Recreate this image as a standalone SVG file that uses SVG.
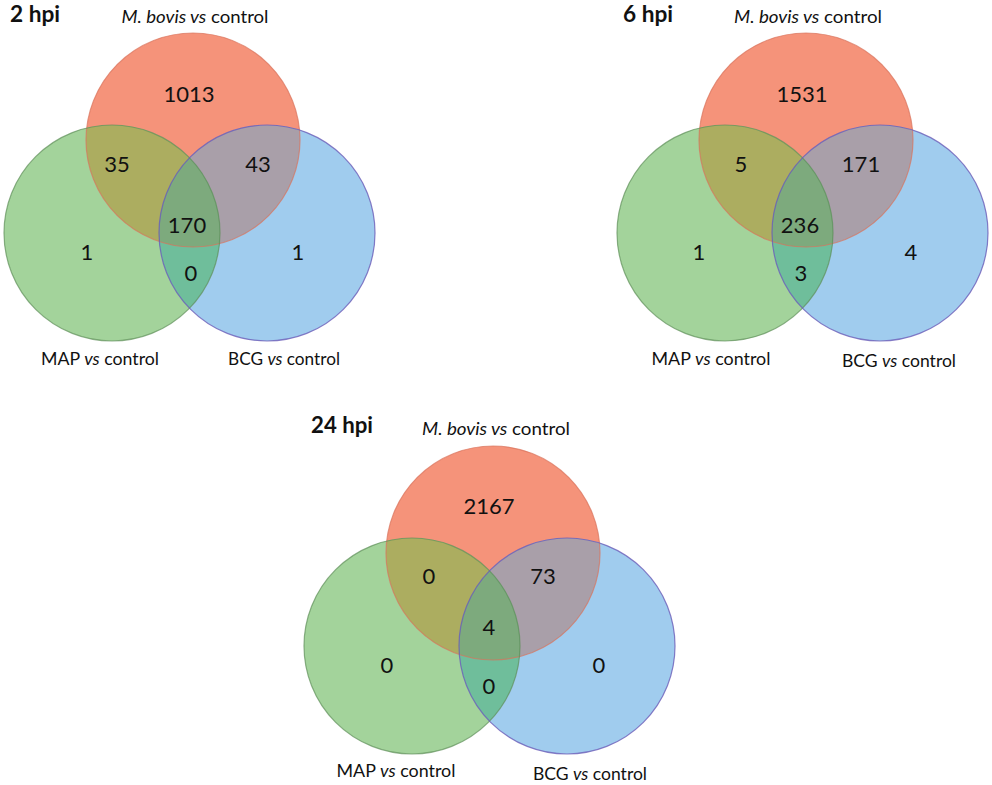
<svg xmlns="http://www.w3.org/2000/svg" width="992" height="785" viewBox="0 0 992 785">
<style>
.red{fill:#F5937A}
.green{fill:#A3D39B}
.blue{fill:#A0CCEE}
.rg{fill:#ACAD60}
.rb{fill:#A99FA9}
.gb{fill:#6FBE9B}
.rgb{fill:#7DAA7D}
.sr{fill:none;stroke:#D9735C;stroke-width:1.2;stroke-opacity:0.7}
.sg{fill:none;stroke:#5E8F58;stroke-width:1.2;stroke-opacity:0.7}
.sb{fill:none;stroke:#6A5CB8;stroke-width:1.2;stroke-opacity:0.8}
text{font-family:Lato,"Liberation Sans",sans-serif;fill:#111}
.num{font-size:22px;text-anchor:middle}
.lab{font-size:18px;text-anchor:middle}
.ttl{font-size:23px;font-weight:bold}
.it{font-style:italic}
</style>
<defs>
<clipPath id="cR"><circle cx="0" cy="0" r="107"/></clipPath>
<clipPath id="cG"><circle cx="-81" cy="93" r="108"/></clipPath>
<clipPath id="cRG" clip-path="url(#cR)"><circle cx="-81" cy="93" r="108"/></clipPath>
<g id="venn">
<circle class="red" cx="0" cy="0" r="107"/>
<circle class="green" cx="-81" cy="93" r="108"/>
<circle class="blue" cx="74" cy="93" r="108"/>
<circle class="rg" cx="-81" cy="93" r="108" clip-path="url(#cR)"/>
<circle class="rb" cx="74" cy="93" r="108" clip-path="url(#cR)"/>
<circle class="gb" cx="74" cy="93" r="108" clip-path="url(#cG)"/>
<circle class="rgb" cx="74" cy="93" r="108" clip-path="url(#cRG)"/>
<circle class="sr" cx="0" cy="0" r="107"/>
<circle class="sg" cx="-81" cy="93" r="108"/>
<circle class="sb" cx="74" cy="93" r="108"/>
</g>
</defs>

<g id="venn-2hpi">
<g id="sets-2hpi"><use href="#venn" transform="translate(193,140)"/></g>
<text class="ttl" x="10" y="22" textLength="50" lengthAdjust="spacingAndGlyphs">2 hpi</text>
<text class="lab" x="195" y="23" textLength="147" lengthAdjust="spacingAndGlyphs"><tspan class="it">M. bovis vs</tspan> control</text>
<text class="lab" x="100" y="365" textLength="118" lengthAdjust="spacingAndGlyphs">MAP <tspan class="it">vs</tspan> control</text>
<text class="lab" x="284" y="365" textLength="112" lengthAdjust="spacingAndGlyphs">BCG <tspan class="it">vs</tspan> control</text>
<text class="num" x="189" y="102">1013</text>
<text class="num" x="117" y="172">35</text>
<text class="num" x="258" y="172">43</text>
<text class="num" x="187" y="233">170</text>
<text class="num" x="87" y="260">1</text>
<text class="num" x="298" y="260">1</text>
<text class="num" x="191" y="281">0</text>
</g>

<g id="venn-6hpi">
<g id="sets-6hpi"><use href="#venn" transform="translate(806,140)"/></g>
<text class="ttl" x="623" y="22" textLength="50" lengthAdjust="spacingAndGlyphs">6 hpi</text>
<text class="lab" x="808" y="23" textLength="148" lengthAdjust="spacingAndGlyphs"><tspan class="it">M. bovis vs</tspan> control</text>
<text class="lab" x="711" y="365" textLength="119" lengthAdjust="spacingAndGlyphs">MAP <tspan class="it">vs</tspan> control</text>
<text class="lab" x="899" y="367" textLength="114" lengthAdjust="spacingAndGlyphs">BCG <tspan class="it">vs</tspan> control</text>
<text class="num" x="802" y="102">1531</text>
<text class="num" x="741" y="172">5</text>
<text class="num" x="861" y="172">171</text>
<text class="num" x="800" y="233">236</text>
<text class="num" x="699" y="260">1</text>
<text class="num" x="911" y="260">4</text>
<text class="num" x="801" y="281">3</text>
</g>

<g id="venn-24hpi">
<g id="sets-24hpi"><use href="#venn" transform="translate(493,553)"/></g>
<text class="ttl" x="311" y="433" textLength="62" lengthAdjust="spacingAndGlyphs">24 hpi</text>
<text class="lab" x="496" y="435" textLength="148" lengthAdjust="spacingAndGlyphs"><tspan class="it">M. bovis vs</tspan> control</text>
<text class="lab" x="396" y="777" textLength="119" lengthAdjust="spacingAndGlyphs">MAP <tspan class="it">vs</tspan> control</text>
<text class="lab" x="590" y="780" textLength="114" lengthAdjust="spacingAndGlyphs">BCG <tspan class="it">vs</tspan> control</text>
<text class="num" x="489" y="514">2167</text>
<text class="num" x="429" y="584">0</text>
<text class="num" x="543" y="584">73</text>
<text class="num" x="489" y="635">4</text>
<text class="num" x="387" y="673">0</text>
<text class="num" x="599" y="673">0</text>
<text class="num" x="489" y="694">0</text>
</g>
</svg>
